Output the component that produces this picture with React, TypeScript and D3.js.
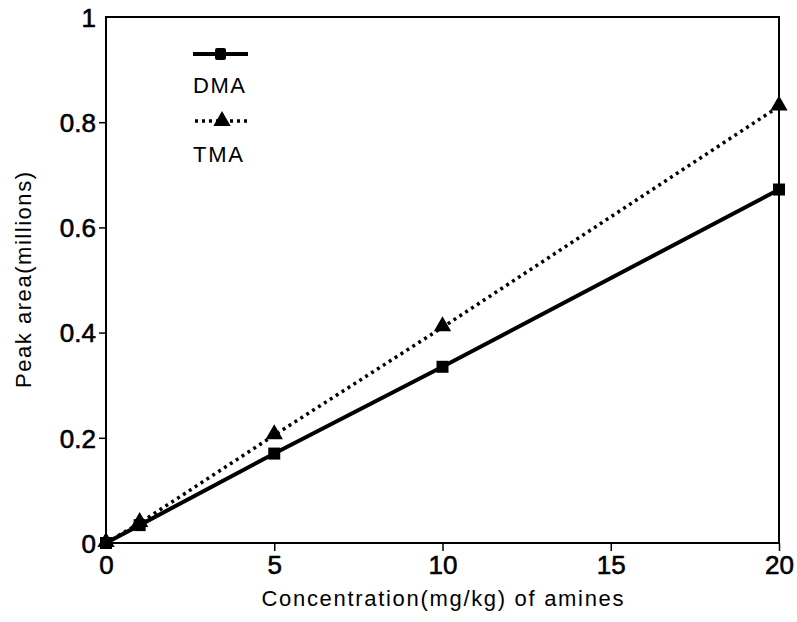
import React, { useEffect, useRef } from "react";
import * as d3 from "d3";

// data
const concentrations = [0, 1, 5, 10, 20];
const dmaValues = [0, 0.034, 0.17, 0.335, 0.672];
const tmaValues = [0, 0.038, 0.205, 0.41, 0.83];
const xTicks = [0, 5, 10, 15, 20];
const yTicks = [0, 0.2, 0.4, 0.6, 0.8, 1];
const seriesNames = ["DMA", "TMA"];

const App = () => {
  const ref = useRef<SVGSVGElement>(null);

  useEffect(() => {
    const svg = d3.select(ref.current);
    svg.selectAll("*").remove();

    const width = 797;
    const height = 622;
    const margin = { top: 17, right: 18, bottom: 79, left: 106 };
    const font = "'Liberation Sans', Arial, Helvetica, sans-serif";

    const x = d3.scaleLinear().domain([0, 20]).range([margin.left, width - margin.right]);
    const y = d3.scaleLinear().domain([0, 1]).range([height - margin.bottom, margin.top]);

    // frame
    svg.append("rect")
      .attr("x", x(0))
      .attr("y", y(1))
      .attr("width", x(20) - x(0))
      .attr("height", y(0) - y(1))
      .attr("fill", "none")
      .attr("stroke", "#000")
      .attr("stroke-width", 2);

    // y axis
    const yAxis = svg.append("g")
      .attr("transform", `translate(${x(0)},0)`)
      .call(d3.axisLeft(y).tickValues(yTicks).tickSize(7).tickPadding(3).tickFormat(d => d3.format("")(+d)));
    yAxis.select(".domain").remove();
    yAxis.selectAll("line").attr("stroke-width", 1.5);
    yAxis.selectAll("text")
      .attr("dy", "0.36em")
      .style("font-family", font)
      .style("font-size", "26px")
      .style("fill", "#000")
      .style("stroke", "#000")
      .style("stroke-width", 0.6);
    yAxis.selectAll("line").filter((d: any) => d === 0 || d === 1).remove();

    // x axis
    const xAxis = svg.append("g")
      .attr("transform", `translate(0,${y(0)})`)
      .call(d3.axisBottom(x).tickValues(xTicks).tickSize(8).tickPadding(5));
    xAxis.select(".domain").remove();
    xAxis.selectAll("line").attr("stroke-width", 1.5);
    xAxis.selectAll("text")
      .style("font-family", font)
      .style("font-size", "26px")
      .style("fill", "#000")
      .style("stroke", "#000")
      .style("stroke-width", 0.6);
    xAxis.selectAll("line").filter((d: any) => d === 0).remove();

    // axis titles
    svg.append("text")
      .attr("x", (x(0) + x(20)) / 2)
      .attr("y", 606)
      .attr("text-anchor", "middle")
      .attr("textLength", 362)
      .attr("lengthAdjust", "spacing")
      .style("font-family", font)
      .style("font-size", "22px")
      .text("Concentration(mg/kg) of amines");

    svg.append("text")
      .attr("transform", `translate(31,280) rotate(-90)`)
      .attr("text-anchor", "middle")
      .attr("textLength", 216)
      .attr("lengthAdjust", "spacing")
      .style("font-family", font)
      .style("font-size", "22px")
      .text("Peak area(millions)");

    const line = d3.line<number>()
      .x((d, i) => x(concentrations[i]))
      .y(d => y(d));

    // TMA dotted line + triangles
    svg.append("path")
      .datum(tmaValues)
      .attr("d", line)
      .attr("fill", "none")
      .attr("stroke", "#000")
      .attr("stroke-width", 3.5)
      .attr("stroke-dasharray", "3,4");

    const tri = d3.symbol().type(d3.symbolTriangle).size(130);
    svg.selectAll(".tri")
      .data(tmaValues)
      .enter()
      .append("path")
      .attr("class", "tri")
      .attr("d", tri)
      .attr("transform", (d, i) => `translate(${x(concentrations[i])},${y(d) - 1})`)
      .attr("fill", "#000");

    // DMA solid line + squares
    svg.append("path")
      .datum(dmaValues)
      .attr("d", line)
      .attr("fill", "none")
      .attr("stroke", "#000")
      .attr("stroke-width", 4);

    svg.selectAll(".sq")
      .data(dmaValues)
      .enter()
      .append("rect")
      .attr("class", "sq")
      .attr("x", (d, i) => x(concentrations[i]) - 6)
      .attr("y", d => y(d) - 6)
      .attr("width", 12)
      .attr("height", 12)
      .attr("fill", "#000");

    // legend
    const legend = svg.append("g").attr("transform", "translate(193,54)");
    legend.append("line")
      .attr("x1", 0).attr("x2", 55).attr("y1", 0).attr("y2", 0)
      .attr("stroke", "#000").attr("stroke-width", 4);
    legend.append("rect")
      .attr("x", 22).attr("y", -6).attr("width", 11).attr("height", 12)
      .attr("rx", 2)
      .attr("fill", "#000");
    legend.append("text")
      .attr("x", 0).attr("y", 39)
      .attr("textLength", 52)
      .attr("lengthAdjust", "spacing")
      .style("font-family", font)
      .style("font-size", "22px")
      .text(seriesNames[0]);

    legend.append("line")
      .attr("x1", 2).attr("x2", 55).attr("y1", 67).attr("y2", 67)
      .attr("stroke", "#000").attr("stroke-width", 3.5)
      .attr("stroke-dasharray", "3,4");
    legend.append("path")
      .attr("d", tri)
      .attr("transform", "translate(29,67)")
      .attr("fill", "#000");
    legend.append("text")
      .attr("x", 0).attr("y", 108)
      .attr("textLength", 50)
      .attr("lengthAdjust", "spacing")
      .style("font-family", font)
      .style("font-size", "22px")
      .text(seriesNames[1]);
  }, []);

  return <svg ref={ref} width={797} height={622} style={{ position: "absolute", left: 0, top: 0, background: "#fff" }} />;
};

export default App;
